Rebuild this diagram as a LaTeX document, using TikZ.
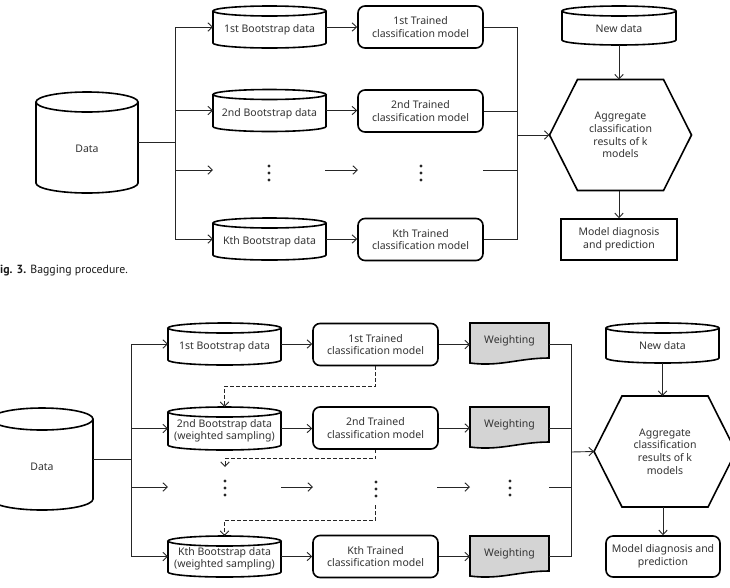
\documentclass[tikz,border=0pt]{standalone}
\usepackage{fontspec}
\setmainfont{Noto Sans}
\newfontfamily\capfont{PT Sans}
\usetikzlibrary{arrows.meta,calc}

% cylinder (drum) node: name, x, y, width, height, ellipse ry, text drop, text
\newcommand\drumnode[8]{%
  \node[inner sep=0pt, outer sep=0pt, minimum width=#4pt, minimum height=#5pt] (#1) at (#2,#3) {};
  \draw[outl] ([yshift=-#6pt]#1.north west) -- ([yshift=#6pt]#1.south west)
    arc[start angle=180, end angle=360, x radius=#4pt/2, y radius=#6pt]
    -- ([yshift=-#6pt]#1.north east);
  \draw[outl] ([yshift=-#6pt]#1.north) ellipse[x radius=#4pt/2, y radius=#6pt];
  \node[txt, font=\fontsize{10.5}{12}\selectfont] at ([yshift=-#7pt]#1.center) {#8};
}
% hexagon node: name, x, y, text
\newcommand\hexnode[4]{%
  \node[txt, inner sep=0pt, outer sep=0pt, minimum width=142pt, minimum height=111pt] (#1) at (#2,#3) {#4};
  \draw[outl] (#1.west) -- ([xshift=28pt]#1.north west) -- ([xshift=-28pt]#1.north east)
    -- (#1.east) -- ([xshift=-28pt]#1.south east) -- ([xshift=28pt]#1.south west) -- cycle;
}
% weighting (document) node: name, x, y
\newcommand\docnode[3]{%
  \node[inner sep=0pt, outer sep=0pt, minimum width=79pt, minimum height=40pt] (#1) at (#2,#3) {};
  \draw[outl, fill=black!17] (#1.north west) -- (#1.north east) -- ([yshift=5pt]#1.south east)
    .. controls ([xshift=-30pt,yshift=5pt]#1.south east) and ([xshift=30pt,yshift=-4pt]#1.south west)
    .. (#1.south west) -- cycle;
  \node[txt] at ([yshift=2pt]#1.center) {Weighting};
}
% vertical dots: name, x, y
\newcommand\vdotsnode[3]{%
  \coordinate (#1) at (#2,#3);
  \fill[black!85] ([yshift=7pt]#1) circle[radius=1.7pt] (#1) circle[radius=1.7pt] ([yshift=-7pt]#1) circle[radius=1.7pt];
}

\begin{document}
\begin{tikzpicture}[x=1pt,y=-1pt,
  conn/.style={line width=0.9pt, draw=black!85},
  arr/.style={conn, -{Straight Barb[length=4.5pt,width=8.5pt]}},
  dconn/.style={arr, dash pattern=on 3.5pt off 2.5pt},
  outl/.style={line width=1.6pt, draw=black},
  txt/.style={font=\fontsize{10.5}{12.8}\selectfont, text=black!80, align=center},
  tbox/.style={txt, outl, rounded corners=7pt, minimum width=125pt, minimum height=42pt, inner sep=0pt},
  sbox/.style={txt, outl, minimum width=116pt, minimum height=41pt, inner sep=0pt},
]
\fill[white] (0,0) rectangle (730,587);
\useasboundingbox (0,0) rectangle (730,587);

%================ Bagging =================
\drumnode{dataA}{87}{142.5}{102}{101}{10}{6}{Data}
\drumnode{bsA1}{269.5}{27}{113}{42}{5}{3}{1st Bootstrap data}
\drumnode{bsA2}{269.5}{110.5}{113}{42}{5}{3}{2nd Bootstrap data}
\drumnode{bsAk}{269.5}{239}{113}{42}{5}{3}{Kth Bootstrap data}
\node[tbox] (trA1) at (420.5,27) {1st Trained\\classification model};
\node[tbox] (trA2) at (420.5,111) {2nd Trained\\classification model};
\node[tbox] (trAk) at (420.5,239.5) {Kth Trained\\classification model};
\vdotsnode{dA1}{269}{173}
\vdotsnode{dA2}{421}{173}
\drumnode{newA}{619}{25.5}{114}{39}{5}{3}{New data}
\hexnode{hexA}{620.5}{135}{Aggregate\\classification\\results of k\\models}
\node[sbox] (modA) at (619,239.5) {Model diagnosis\\and prediction};

\coordinate (jA) at (175,142.5);
\coordinate (rA0) at (175,170);
\coordinate (rA1) at (213,170);
\coordinate (rA2) at (325,170);
\coordinate (rA3) at (358,170);
\coordinate (rA4) at (483,170);
\coordinate (kA) at (517,135);

\draw[conn] (dataA.east) -- (jA);
\draw[conn] (jA |- bsA1.west) -- (jA |- bsAk.west);
\draw[arr] (jA |- bsA1.west) -- (bsA1.west);
\draw[arr] (jA |- bsA2.west) -- (bsA2.west);
\draw[arr] (rA0) -- (rA1);
\draw[arr] (jA |- bsAk.west) -- (bsAk.west);
\draw[arr] (bsA1.east) -- (trA1.west |- bsA1.east);
\draw[arr] (bsA2.east) -- (trA2.west |- bsA2.east);
\draw[arr] (rA2) -- (rA3);
\draw[arr] (bsAk.east) -- (trAk.west |- bsAk.east);
\draw[conn] (trA1.east) -- (kA |- trA1.east) -- (kA |- trAk.east) -- (trAk.east);
\draw[conn] (trA2.east) -- (kA |- trA2.east);
\draw[conn] (rA4) -- (kA |- rA4);
\draw[arr] (kA) -- (hexA.west);
\draw[arr] (newA.south) -- (newA.south |- hexA.north);
\draw[arr] (modA.north |- hexA.south) -- (modA.north);

\node[font=\capfont\fontsize{11.8}{13}\selectfont, text=black!90, anchor=base west, inner sep=0pt] (capA) at (0,273) {\textbf{ig. 3.} Bagging procedure.};

%================ Boosting =================
\drumnode{dataB}{42}{459}{102}{102}{11}{8}{Data}
\drumnode{bsB1}{224.5}{344}{113}{42}{5}{3}{1st Bootstrap data}
\drumnode{bsB2}{224.5}{428.5}{113}{43}{5}{2.5}{2nd Bootstrap data\\(weighted sampling)}
\drumnode{bsBk}{224.5}{556.5}{113}{41}{5}{2.5}{Kth Bootstrap data\\(weighted sampling)}
\node[tbox] (trB1) at (375.5,344.5) {1st Trained\\classification model};
\node[tbox] (trB2) at (375.5,428) {2nd Trained\\classification model};
\node[tbox] (trBk) at (375.5,556.5) {Kth Trained\\classification model};
\docnode{wB1}{509.5}{343}
\docnode{wB2}{509.5}{427}
\docnode{wBk}{509.5}{556}
\vdotsnode{dB1}{225}{488}
\vdotsnode{dB2}{376}{489}
\vdotsnode{dB3}{510}{488}
\drumnode{newB}{662.5}{343}{113}{40}{5}{3}{New data}
\hexnode{hexB}{665}{451.5}{Aggregate\\classification\\results of k\\models}
\node[tbox, minimum width=114pt, minimum height=41pt] (modB) at (663,556.5) {Model diagnosis and\\prediction};

\coordinate (jB) at (131,459);
\coordinate (rB0) at (131,487);
\coordinate (rB1) at (168,487);
\coordinate (rB2) at (281,487);
\coordinate (rB3) at (313,487);
\coordinate (rB4) at (437,487);
\coordinate (rB5) at (470,487);
\coordinate (rB6) at (549,487);
\coordinate (kB) at (571,452);
\coordinate (dsB) at (225,467);
\coordinate (dsC) at (375.5,505);

\draw[conn] (dataB.east) -- (jB);
\draw[conn] (jB |- bsB1.west) -- (jB |- bsBk.west);
\draw[arr] (jB |- bsB1.west) -- (bsB1.west);
\draw[arr] (jB |- bsB2.west) -- (bsB2.west);
\draw[arr] (rB0) -- (rB1);
\draw[arr] (jB |- bsBk.west) -- (bsBk.west);
\draw[arr] (bsB1.east) -- (trB1.west |- bsB1.east);
\draw[arr] (bsB2.east) -- (trB2.west |- bsB2.east);
\draw[arr] (rB2) -- (rB3);
\draw[arr] (bsBk.east) -- (trBk.west |- bsBk.east);
\draw[arr] (trB1.east) -- (wB1.west |- trB1.east);
\draw[arr] (trB2.east) -- (wB2.west |- trB2.east);
\draw[arr] (rB4) -- (rB5);
\draw[arr] (trBk.east) -- (wBk.west |- trBk.east);
\draw[dconn] (trB1.south) -- ++(0,20) -| (bsB2.north);
\draw[dconn] (trB2.south) -- ++(0,9) -| (dsB);
\draw[dconn] (dsC) -- ++(0,15) -| (bsBk.north);
\draw[conn] (wB1.east |- bsB1.west) -- (kB |- bsB1.west) -- (kB |- bsBk.west) -- (wBk.east |- bsBk.west);
\draw[conn] (wB2.east |- bsB2.west) -- (kB |- bsB2.west);
\draw[conn] (rB6) -- (kB |- rB6);
\draw[arr] (kB) -- (hexB.west);
\draw[arr] (newB.south) -- (newB.south |- hexB.north);
\draw[arr] (modB.north |- hexB.south) -- (modB.north);
\end{tikzpicture}
\end{document}
